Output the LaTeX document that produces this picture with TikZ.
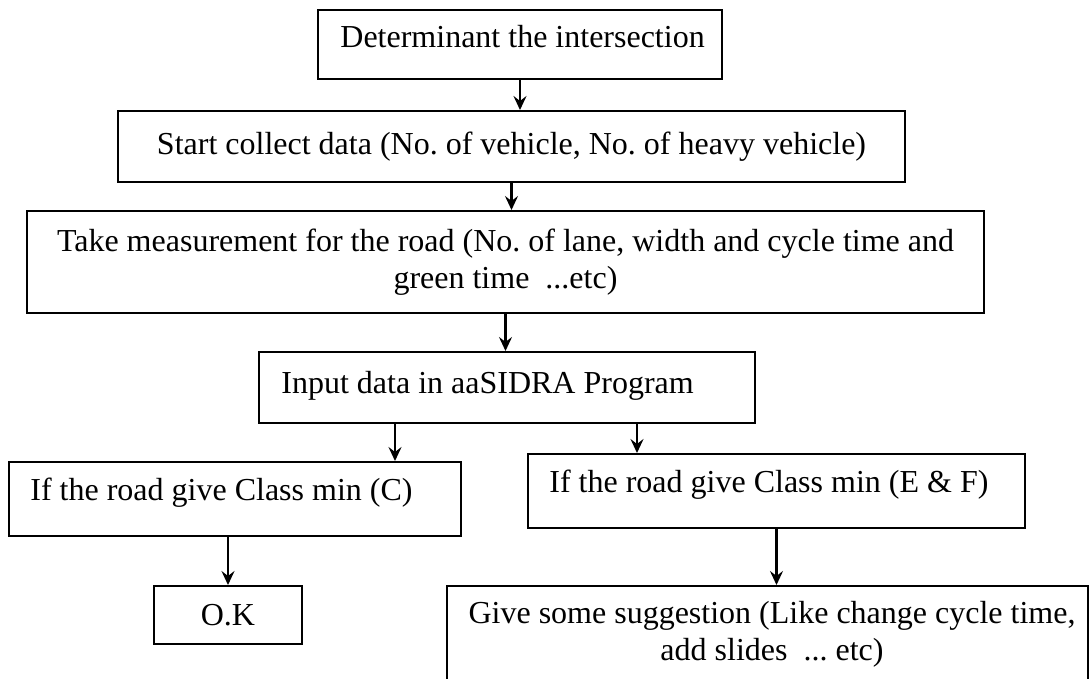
\documentclass[tikz,border=0pt]{standalone}
\usepackage{fontspec}
\setmainfont{Liberation Serif}
\usetikzlibrary{arrows.meta}
\frenchspacing
\tikzset{
	box/.style 2 args={draw,line width=1pt,inner sep=0pt,align=center,font=\fontsize{16}{18.4}\selectfont,minimum width=#1*0.5pt,minimum height=#2*0.5pt},
	txt/.style={inner sep=0pt,align=center,font=\fontsize{16}{18.4}\selectfont},
	arr/.style={-{Stealth[length=7pt,width=6.5pt,inset=2.5pt]},line width=1.1pt}
}
\begin{document}
\begin{tikzpicture}[x=0.5pt,y=-0.5pt]
	\useasboundingbox (0,0) rectangle (1091,679);
	\clip (0,0) rectangle (1091,679);

	\node [box={404}{69}] (det) at (520,44.5) {};
	\node [txt,anchor=base west] (detText) at (340,48) {Determinant the intersection};
	\node [box={787}{71}] (collect) at (511.5,146.5) {Start collect data (No. of vehicle, No. of heavy vehicle)};
	\node [box={957}{102}] (measure) at (505.5,262) {Take measurement for the road (No. of lane, width and cycle time and\\green time\ \ ...etc)};
	\node [box={496}{71}] (input) at (507,387.5) {};
	\node [txt,anchor=base west] (inputText) at (281,393.5) {Input data in aaSIDRA Program};
	\node [box={451.5}{74}] (classC) at (235,499) {};
	\node [txt,anchor=base west] (classCText) at (30,500.5) {If the road give Class min (C)};
	\node [box={497}{74}] (classEF) at (776.5,491) {};
	\node [txt,anchor=base west] (classEFText) at (549,492.5) {If the road give Class min (E \& F)};
	\node [box={148}{58}] (ok) at (228,615) {O.K};
	\node [box={641}{134}] (suggest) at (767.5,653) {};
	\node [txt] (suggestText) at (772,634) {Give some suggestion (Like change cycle time,\\add slides\ \ ... etc)};

	\coordinate (inL) at ([xshift=-56pt]input.south);
	\coordinate (inR) at ([xshift=65pt]input.south);

	\draw [arr] (det.south) -- (collect.north -| det.south);
	\draw [arr] (collect.south) -- (measure.north -| collect.south);
	\draw [arr] (measure.south) -- (input.north -| measure.south);
	\draw [arr] (inL) -- (classC.north -| inL);
	\draw [arr] (inR) -- (classEF.north -| inR);
	\draw [arr] (ok.north |- classC.south) -- (ok.north);
	\draw [arr] (classEF.south) -- (suggest.north -| classEF.south);
\end{tikzpicture}
\end{document}
